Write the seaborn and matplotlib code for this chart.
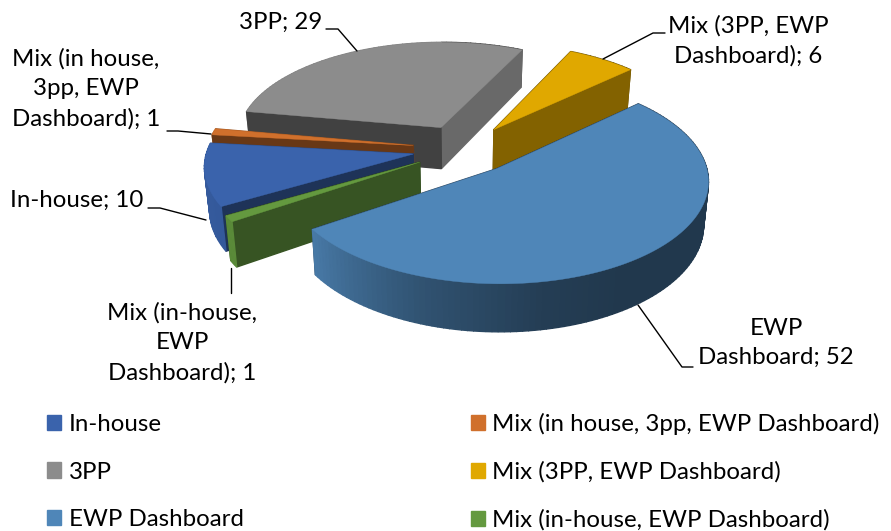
import numpy as np
import matplotlib.pyplot as plt
from matplotlib.patches import Patch
import seaborn as sns

# Chart values, clockwise from the first slice
categories = ["In-house", "Mix (in house, 3pp, EWP Dashboard)", "3PP",
              "Mix (3PP, EWP Dashboard)", "EWP Dashboard", "Mix (in-house, EWP Dashboard)"]
values = [10, 1, 29, 6, 52, 1]
label_names = ["In-house", "Mix (in house,\n3pp, EWP\nDashboard)", "3PP",
               "Mix (3PP, EWP\nDashboard)", "EWP\nDashboard", "Mix (in-house,\nEWP\nDashboard)"]
colors = ["#3A63AC", "#D0702C", "#8C8C8C", "#E0A800", "#4F86B8", "#64993F"]

sns.set_theme(style="white")
plt.rcParams["font.family"] = ["Lato", "DejaVu Sans"]
palette = sns.color_palette(colors)

# Look of the 3D pie
START = 240
EXPLODE = 0.25
CX, CY = 464, 149
A, B, K = 206, 98.5, 0.105
DEPTH = 42
TAPER = 0.02
DRAW_ORDER = [2, 3, 1, 0, 5, 4]


def project(X, Y, low=False):
    s = 1 / (1 - K * np.asarray(Y))
    x = A * np.asarray(X) * s
    y = B * np.asarray(Y) * s
    if low:
        return CX + x * (1 - TAPER), CY + y + DEPTH * s
    return CX + x, CY + y


def shade(c, f):
    return tuple(np.array(c) * f)


def cut_shade(normal):
    return np.interp(normal, [116, 138, 147, 151, 187, 191], [0.75, 0.58, 0.55, 0.5, 0.5, 0.45])


def arc_shade(theta):
    return np.interp(theta % 360, [45, 150, 170, 200, 235, 280], [0.42, 0.42, 0.46, 0.62, 0.9, 0.92])


fig = plt.figure(figsize=(8.91, 5.31), dpi=100)
ax = fig.add_axes([0, 0, 1, 1])
ax.set_xlim(0, 891)
ax.set_ylim(531, 0)
ax.axis("off")

sizes = np.array(values) / sum(values) * 360
starts = START + np.concatenate([[0], np.cumsum(sizes)[:-1]])

for i in DRAW_ORDER:
    t0, t1 = starts[i], starts[i] + sizes[i]
    mid = np.radians((t0 + t1) / 2)
    px, py = EXPLODE * np.sin(mid), -EXPLODE * np.cos(mid)
    th = np.radians(np.linspace(t0, t1, max(4, int(sizes[i] / 1.5))))
    ox, oy = px + np.sin(th), py - np.cos(th)
    c = palette[i]

    faces = []
    # the two straight cuts
    for k, t, nrm in [(0, t0, t0 - 90), (-1, t1, t1 + 90)]:
        xs = [px, ox[k], ox[k], px]
        ys = [py, oy[k], oy[k], py]
        top = project(xs[:2], ys[:2])
        bot = project(xs[2:], ys[2:], low=True)
        faces.append((np.mean(ys), np.r_[top[0], bot[0]], np.r_[top[1], bot[1]], cut_shade(nrm % 360)))
    # outer rim, cut in strips for the shading
    for j in range(len(th) - 1):
        top = project(ox[j:j + 2], oy[j:j + 2])
        bot = project(ox[j:j + 2][::-1], oy[j:j + 2][::-1], low=True)
        tm = np.degrees((th[j] + th[j + 1]) / 2)
        faces.append((np.mean(oy[j:j + 2]), np.r_[top[0], bot[0]], np.r_[top[1], bot[1]], arc_shade(tm)))
    for _, fx, fy, f in sorted(faces, key=lambda q: q[0]):
        col = shade(c, f)
        ax.fill(fx, fy, color=col, lw=1.0, zorder=1)

    tx, ty = project(np.r_[px, ox], np.r_[py, oy])
    ax.fill(tx, ty, color=c, lw=0.3, zorder=1)

# leader lines
leaders = [
    ([148, 160, 206], [208, 208, 220]),
    ([167, 178, 211], [131, 131, 134]),
    ([326, 338, 357], [29, 29, 51]),
    ([665, 653, 603], [33, 33, 59]),
    ([693, 682, 638], [367, 367, 305]),
    ([231, 231], [268, 293]),
]
for lx, ly in leaders:
    ax.plot(lx, ly, color="black", lw=1.0, zorder=2)

# data labels
label_xy = [(77, 200), (86, 89), (281, 22), (748, 41), (776, 343), (182, 343)]
for name, v, (x, y) in zip(label_names, values, label_xy):
    ax.text(x, y, f"{name}; {v}", ha="center", va="center", fontsize=17.3,
            color="black", linespacing=1.49)

handles = [Patch(color=palette[i], label=categories[i]) for i in [0, 2, 4, 1, 3, 5]]
ax.legend(handles=handles, ncol=2, loc="upper left", bbox_to_anchor=(47 / 891, 1 - 413 / 531),
          frameon=False, fontsize=17.3, handlelength=0.6, handleheight=0.6, labelcolor="black",
          handletextpad=0.3, labelspacing=1.1, columnspacing=9.45, borderpad=0, borderaxespad=0)

plt.savefig("out.png", dpi=100)
